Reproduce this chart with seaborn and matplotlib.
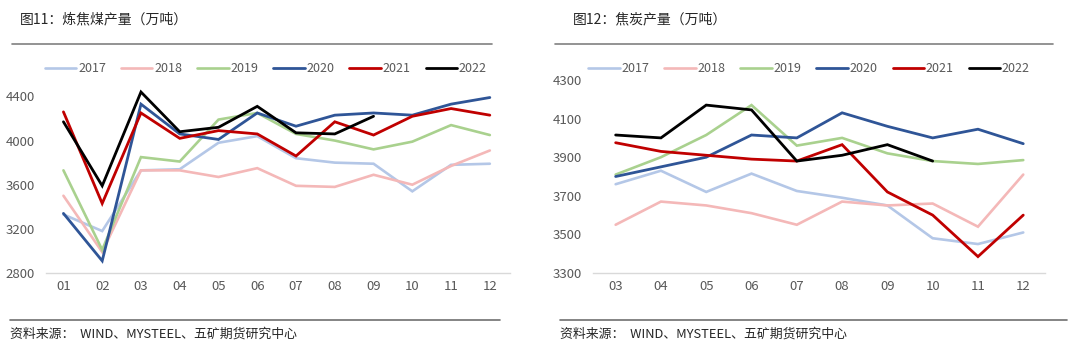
import numpy as np
import pandas as pd
import matplotlib
matplotlib.use("Agg")
import matplotlib.pyplot as plt
import seaborn as sns

# === Data ===
years = ["2017", "2018", "2019", "2020", "2021", "2022"]
colors = ["#b4c7e7", "#f4b8b8", "#a9d18e", "#2f5597", "#c00000", "#000000"]
widths = [1.9, 1.9, 1.9, 2.0, 2.0, 2.0]

months_coal = ["01", "02", "03", "04", "05", "06", "07", "08", "09", "10", "11", "12"]
coal_2017 = [3330, 3180, 3730, 3740, 3980, 4040, 3840, 3800, 3790, 3540, 3780, 3790]
coal_2018 = [3500, 2990, 3730, 3730, 3670, 3750, 3590, 3580, 3690, 3600, 3770, 3910]
coal_2019 = [3730, 3010, 3850, 3810, 4190, 4250, 4060, 4000, 3920, 3990, 4140, 4050]
coal_2020 = [3340, 2910, 4330, 4060, 4010, 4250, 4130, 4230, 4250, 4230, 4330, 4390]
coal_2021 = [4260, 3430, 4250, 4020, 4090, 4060, 3860, 4170, 4050, 4220, 4290, 4230]
coal_2022 = [4170, 3590, 4440, 4080, 4120, 4310, 4070, 4060, 4220]

months_coke = ["03", "04", "05", "06", "07", "08", "09", "10", "11", "12"]
coke_2017 = [3760, 3830, 3720, 3815, 3725, 3690, 3650, 3480, 3450, 3510]
coke_2018 = [3550, 3670, 3650, 3610, 3550, 3670, 3650, 3660, 3540, 3810]
coke_2019 = [3810, 3900, 4015, 4170, 3960, 4000, 3920, 3880, 3865, 3885]
coke_2020 = [3800, 3850, 3900, 4015, 4000, 4130, 4060, 4000, 4045, 3970]
coke_2021 = [3975, 3930, 3910, 3890, 3880, 3965, 3720, 3600, 3385, 3600]
coke_2022 = [4015, 4000, 4170, 4145, 3880, 3910, 3965, 3880]

coal_series = [coal_2017, coal_2018, coal_2019, coal_2020, coal_2021, coal_2022]
coke_series = [coke_2017, coke_2018, coke_2019, coke_2020, coke_2021, coke_2022]


def to_long(months, series):
    rows = []
    for year, vals in zip(years, series):
        for i, v in enumerate(vals):
            rows.append({"pos": i, "month": months[i], "year": year, "value": v})
    return pd.DataFrame(rows)


sns.set_style("white")
plt.rcParams["font.family"] = ["Noto Sans CJK SC", "DejaVu Sans"]

W, H = 1080, 356
fig = plt.figure(figsize=(W / 100, H / 100), dpi=100)


def px_axes(x0, y0, x1, y1):
    # pixel box (top-left origin) -> figure fraction
    return fig.add_axes([x0 / W, 1 - y1 / H, (x1 - x0) / W, (y1 - y0) / H])


def draw_panel(ax, months, series, ylim, yticks, xlim, leg_x):
    df = to_long(months, series)
    sns.lineplot(data=df, x="pos", y="value", hue="year", palette=colors,
                 hue_order=years, ax=ax, legend=False, sort=False)
    for line, lw in zip(ax.get_lines(), widths):
        line.set_linewidth(lw)
        line.set_solid_joinstyle("miter")
    ax.set_xlim(*xlim)
    ax.set_ylim(*ylim)
    ax.set_yticks(yticks)
    ax.set_xticks(range(len(months)))
    ax.set_xticklabels(months)
    ax.set_xlabel("")
    ax.set_ylabel("")
    for s in ["top", "right", "left"]:
        ax.spines[s].set_visible(False)
    ax.spines["bottom"].set_color("#d9d9d9")
    ax.spines["bottom"].set_linewidth(1.0)
    ax.tick_params(axis="both", length=0, labelsize=9.5, colors="#595959")
    ax.tick_params(axis="y", pad=8)
    ax.tick_params(axis="x", pad=5)
    handles = [plt.Line2D([], [], color=c, lw=lw) for c, lw in zip(colors, widths)]
    ax.legend(handles, years, loc="center", bbox_to_anchor=(leg_x, 0.95),
              ncol=6, frameon=False, fontsize=9, handlelength=2.5,
              handletextpad=0.15, columnspacing=1.2, labelcolor="#595959")


# left panel: coking coal
ax1 = px_axes(46, 58, 510, 273)
draw_panel(ax1, months_coal, coal_series, (2800, 4748), [2800, 3200, 3600, 4000, 4400],
           (-0.45, 11.52), 0.474)

# right panel: coke
ax2 = px_axes(593, 58, 1045, 273)
draw_panel(ax2, months_coke, coke_series, (3300, 4414), [3300, 3500, 3700, 3900, 4100, 4300],
           (-0.5, 9.48), 0.478)

# titles, rules and source notes
fig.text(20 / W, 1 - 19 / H, "图11：炼焦煤产量（万吨）", fontsize=10, color="#262626", va="center")
fig.text(573 / W, 1 - 19 / H, "图12：焦炭产量（万吨）", fontsize=10, color="#262626", va="center")
for x0, x1 in [(12, 492), (555, 1053)]:
    fig.add_artist(plt.Line2D([x0 / W, x1 / W], [1 - 44 / H] * 2, color="#808080", lw=1.2))
for x0, x1 in [(10, 500), (560, 1067)]:
    fig.add_artist(plt.Line2D([x0 / W, x1 / W], [1 - 320 / H] * 2, color="#707070", lw=1.2))
src = "资料来源：  WIND、MYSTEEL、五矿期货研究中心"
fig.text(10 / W, 1 - 334 / H, src, fontsize=9.3, color="#262626", va="center")
fig.text(560 / W, 1 - 334 / H, src, fontsize=9.3, color="#262626", va="center")

fig.savefig("out.png", dpi=100)
